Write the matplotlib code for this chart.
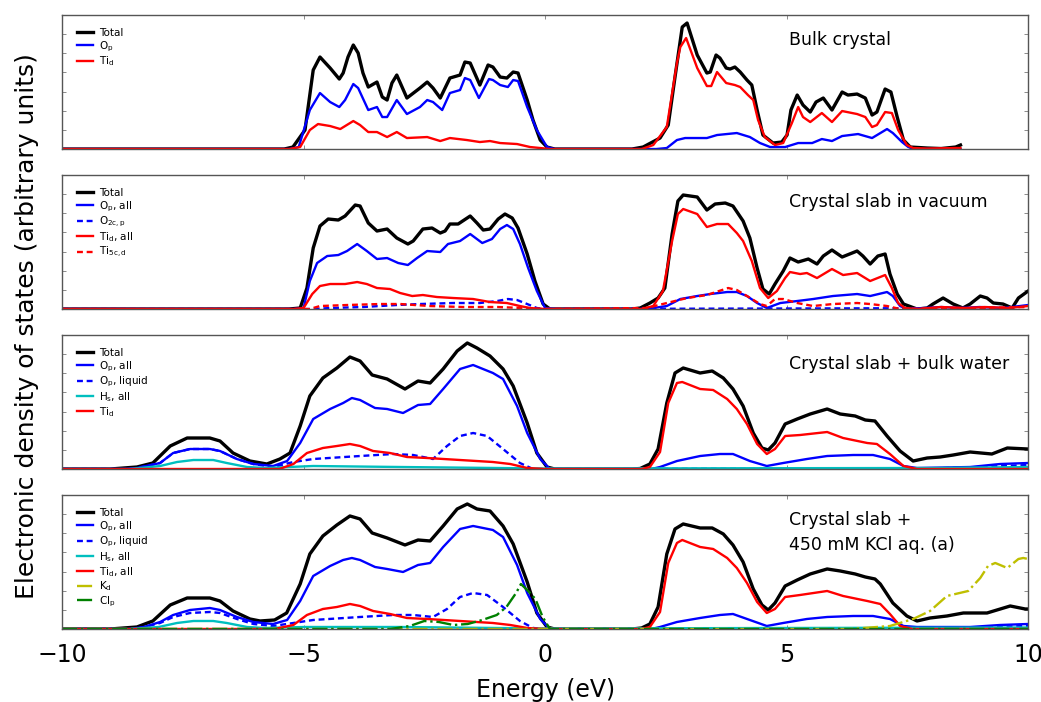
import matplotlib
matplotlib.use("Agg")
import matplotlib.pyplot as plt
import numpy as np

# energy grid limits
e_min, e_max = -10, 10

# ---- panel 1: bulk crystal (energy eV, DOS arb.) ----
bulk_total = [(-10, 0), (-5.4, 0), (-5.22, 2), (-4.97, 19), (-4.80, 79), (-4.66, 92), (-4.45, 81), (-4.26, 70),
              (-4.18, 76), (-4.08, 92), (-3.97, 104), (-3.87, 96), (-3.77, 76), (-3.66, 62), (-3.48, 67),
              (-3.37, 52), (-3.27, 49), (-3.17, 66), (-3.07, 74), (-2.86, 51), (-2.59, 61), (-2.44, 67),
              (-2.32, 61), (-2.17, 51), (-1.97, 71), (-1.76, 74), (-1.66, 87), (-1.55, 86), (-1.35, 64),
              (-1.18, 84), (-1.08, 82), (-0.93, 72), (-0.79, 71), (-0.66, 77), (-0.56, 76), (-0.37, 49),
              (-0.25, 29), (-0.10, 9), (0.04, 2), (0.2, 0), (1.8, 0), (2.03, 2), (2.38, 11), (2.55, 24),
              (2.69, 72), (2.84, 122), (2.94, 126), (3.15, 94), (3.35, 76), (3.42, 77), (3.54, 94), (3.62, 91),
              (3.75, 81), (3.83, 80), (3.93, 82), (4.04, 77), (4.18, 69), (4.28, 64), (4.39, 39), (4.51, 14),
              (4.72, 6), (4.90, 7), (5.01, 14), (5.09, 39), (5.22, 54), (5.34, 44), (5.49, 37), (5.61, 47),
              (5.76, 51), (5.94, 39), (6.15, 57), (6.27, 54), (6.46, 55), (6.63, 51), (6.77, 34), (6.87, 37),
              (7.04, 60), (7.16, 57), (7.29, 32), (7.42, 9), (7.56, 2), (7.91, 1), (8.2, 0.5), (8.5, 2), (8.6, 4)]
bulk_op = [(-10, 0), (-5.3, 0), (-5.1, 2), (-4.87, 39), (-4.66, 56), (-4.45, 47), (-4.26, 42), (-4.14, 49),
           (-3.97, 65), (-3.87, 61), (-3.66, 39), (-3.48, 42), (-3.37, 32), (-3.27, 32), (-3.07, 49), (-2.86, 35),
           (-2.59, 42), (-2.44, 49), (-2.32, 47), (-2.13, 39), (-1.97, 56), (-1.76, 59), (-1.66, 71), (-1.55, 69),
           (-1.37, 51), (-1.16, 70), (-1.08, 69), (-0.93, 64), (-0.77, 62), (-0.66, 69), (-0.56, 68), (-0.37, 42),
           (-0.17, 19), (0.04, 2), (0.2, 0), (2.3, 0), (2.52, 1), (2.73, 9), (2.90, 11), (3.35, 11), (3.56, 14),
           (3.97, 16), (4.24, 12), (4.45, 6), (4.66, 2), (4.97, 2), (5.24, 6), (5.53, 6), (5.73, 10), (5.94, 8),
           (6.15, 13), (6.48, 15), (6.77, 11), (7.08, 20), (7.2, 16), (7.39, 7), (7.52, 2), (7.7, 0), (8.6, 0)]
bulk_tid = [(-10, 0), (-5.3, 0), (-5.07, 2), (-4.87, 19), (-4.70, 25), (-4.45, 23), (-4.24, 20), (-3.97, 28),
            (-3.83, 24), (-3.66, 17), (-3.48, 17), (-3.27, 12), (-3.07, 17), (-2.86, 11), (-2.44, 12), (-2.17, 8),
            (-1.97, 11), (-1.62, 9), (-1.35, 7), (-1.14, 8), (-0.93, 6), (-0.58, 5), (-0.31, 2), (-0.1, 1),
            (0.1, 0), (2.0, 0), (2.24, 4), (2.52, 22), (2.73, 86), (2.80, 102), (2.92, 111), (3.15, 81),
            (3.35, 63), (3.44, 63), (3.56, 77), (3.75, 66), (3.93, 64), (4.04, 62), (4.20, 54), (4.31, 49),
            (4.41, 29), (4.55, 12), (4.76, 4), (4.93, 6), (5.11, 26), (5.24, 42), (5.34, 32), (5.49, 27),
            (5.73, 36), (5.94, 27), (6.15, 38), (6.46, 35), (6.63, 32), (6.77, 22), (6.87, 24), (7.04, 37),
            (7.18, 36), (7.31, 19), (7.49, 4), (7.62, 1), (7.9, 0.5), (8.5, 1), (8.6, 1)]

# ---- panel 2: crystal slab in vacuum ----
vac_total = [(-10, 0), (-5.3, 0), (-5.07, 1), (-4.93, 21), (-4.80, 61), (-4.66, 83), (-4.49, 90), (-4.28, 89),
             (-4.14, 93), (-3.93, 104), (-3.83, 103), (-3.66, 86), (-3.48, 78), (-3.27, 80), (-3.07, 71),
             (-2.84, 65), (-2.73, 68), (-2.53, 80), (-2.34, 81), (-2.17, 76), (-2.07, 78), (-1.97, 85),
             (-1.80, 85), (-1.55, 93), (-1.41, 86), (-1.28, 79), (-1.14, 80), (-0.97, 90), (-0.83, 95),
             (-0.68, 91), (-0.56, 81), (-0.37, 55), (-0.21, 28), (-0.04, 5), (0.10, 0), (1.8, 0), (1.97, 1),
             (2.17, 6), (2.34, 11), (2.48, 21), (2.63, 75), (2.75, 108), (2.86, 114), (3.15, 112), (3.35, 99),
             (3.52, 105), (3.73, 106), (3.89, 103), (4.10, 88), (4.24, 71), (4.39, 41), (4.51, 20), (4.64, 15),
             (4.76, 25), (4.93, 38), (5.07, 51), (5.24, 47), (5.45, 50), (5.63, 45), (5.76, 53), (5.94, 59),
             (6.15, 52), (6.46, 58), (6.58, 53), (6.73, 45), (6.89, 53), (7.04, 55), (7.14, 35), (7.29, 15),
             (7.42, 5), (7.70, 0), (7.91, 1), (8.03, 5), (8.24, 11), (8.45, 5), (8.65, 1), (8.80, 5), (9.01, 13),
             (9.15, 11), (9.28, 6), (9.48, 5), (9.67, 1), (9.80, 11), (10.0, 18)]
vac_op = [(-10, 0), (-5.2, 0), (-5.0, 1), (-4.87, 28), (-4.72, 46), (-4.51, 53), (-4.28, 54), (-4.10, 58),
          (-3.89, 65), (-3.69, 58), (-3.48, 50), (-3.27, 51), (-3.04, 46), (-2.84, 44), (-2.65, 51), (-2.44, 58),
          (-2.17, 57), (-2.01, 65), (-1.76, 68), (-1.55, 75), (-1.30, 66), (-1.10, 70), (-0.93, 80), (-0.79, 84),
          (-0.66, 80), (-0.52, 65), (-0.35, 41), (-0.17, 18), (0.0, 1), (0.2, 0), (2.1, 0), (2.52, 3), (2.80, 10),
          (3.15, 13), (3.42, 15), (3.77, 17), (3.97, 17), (4.18, 13), (4.39, 6), (4.59, 1), (4.87, 6), (5.22, 8),
          (5.55, 10), (5.96, 13), (6.46, 15), (6.73, 13), (7.08, 17), (7.2, 13), (7.35, 3), (7.5, 0),
          (8.2, 2), (8.6, 1), (9.0, 2), (9.5, 1), (10.0, 4)]
vac_o2c = [(-10, 0), (-4.8, 0), (-4.45, 1), (-3.77, 2), (-3.07, 4), (-2.59, 5), (-1.9, 6), (-1.35, 6),
           (-0.99, 8), (-0.77, 10), (-0.58, 9), (-0.37, 5), (-0.17, 1), (0.0, 0), (9.5, 1), (10.0, 3)]
vac_tid = [(-10, 0), (-5.2, 0), (-5.0, 1), (-4.82, 15), (-4.66, 23), (-4.45, 25), (-4.14, 25), (-3.89, 27),
           (-3.69, 25), (-3.48, 21), (-3.21, 20), (-3.0, 16), (-2.75, 13), (-2.53, 14), (-2.24, 12), (-1.90, 11),
           (-1.49, 10), (-1.14, 7), (-0.79, 6), (-0.52, 3), (-0.31, 1), (0.0, 0), (2.0, 0), (2.24, 3),
           (2.44, 18), (2.63, 68), (2.75, 95), (2.86, 100), (3.15, 95), (3.35, 82), (3.56, 85), (3.79, 85),
           (3.97, 76), (4.10, 68), (4.28, 48), (4.45, 21), (4.62, 11), (4.80, 18), (4.97, 31), (5.07, 37),
           (5.28, 35), (5.42, 36), (5.63, 31), (5.94, 40), (6.17, 34), (6.46, 36), (6.73, 28), (7.04, 34),
           (7.18, 21), (7.31, 6), (7.45, 1), (7.7, 0), (8.2, 2), (8.7, 1), (9.1, 2), (9.6, 1), (10.0, 3)]
vac_ti5c = [(-10, 0), (-4.87, 0), (-4.66, 3), (-4.10, 4), (-3.42, 5), (-3.0, 5), (-2.38, 3), (-1.70, 2),
            (-0.99, 2), (-0.45, 1), (-0.2, 0), (2.1, 1), (2.52, 6), (2.94, 11), (3.35, 14), (3.79, 21),
            (3.97, 19), (4.18, 13), (4.45, 5), (4.59, 3), (4.76, 10), (4.93, 10), (5.22, 6), (5.55, 3),
            (5.96, 5), (6.46, 6), (6.73, 5), (7.08, 3), (7.35, 0), (9.0, 1), (10.0, 2)]

# ---- panel 3: crystal slab + bulk water ----
wat_total = [(-10, 0), (-9.0, 0), (-8.45, 2), (-8.12, 6), (-7.76, 23), (-7.41, 31), (-6.94, 31), (-6.73, 28),
             (-6.46, 16), (-6.11, 8), (-5.76, 5), (-5.49, 10), (-5.28, 16), (-5.07, 43), (-4.87, 73), (-4.60, 91),
             (-4.31, 101), (-4.04, 112), (-3.83, 108), (-3.58, 94), (-3.27, 90), (-2.90, 80), (-2.63, 88),
             (-2.38, 86), (-2.11, 100), (-1.82, 118), (-1.61, 126), (-1.41, 121), (-1.14, 113), (-0.87, 100),
             (-0.66, 83), (-0.37, 46), (-0.17, 16), (0.04, 2), (0.2, 0), (1.8, 0), (1.97, 0.5), (2.17, 5),
             (2.34, 20), (2.52, 66), (2.69, 96), (2.86, 101), (3.21, 96), (3.46, 98), (3.69, 91), (3.89, 80),
             (4.10, 63), (4.31, 36), (4.49, 21), (4.62, 19), (4.76, 26), (4.97, 45), (5.22, 50), (5.49, 55),
             (5.84, 60), (6.11, 55), (6.42, 53), (6.63, 49), (6.83, 48), (7.08, 33), (7.35, 18), (7.62, 8),
             (7.91, 11), (8.18, 12), (8.45, 14), (8.80, 17), (9.25, 15), (9.57, 21), (10.0, 20)]
wat_op = [(-10, 0), (-8.7, 0), (-8.45, 1), (-7.97, 6), (-7.70, 16), (-7.35, 20), (-6.94, 20), (-6.73, 18),
          (-6.38, 10), (-6.04, 5), (-5.63, 3), (-5.34, 8), (-5.07, 26), (-4.80, 50), (-4.45, 60), (-4.18, 66),
          (-4.00, 71), (-3.83, 69), (-3.52, 61), (-3.27, 60), (-2.94, 56), (-2.63, 64), (-2.38, 65), (-2.11, 80),
          (-1.76, 100), (-1.49, 104), (-1.08, 96), (-0.87, 90), (-0.58, 63), (-0.37, 36), (-0.10, 10), (0.10, 0),
          (2.2, 0), (2.38, 2), (2.73, 8), (3.21, 13), (3.62, 15), (3.89, 15), (4.24, 8), (4.59, 3), (4.93, 6),
          (5.42, 10), (5.84, 13), (6.38, 14), (6.79, 14), (7.14, 10), (7.42, 3), (7.7, 1), (8.8, 2), (9.42, 5),
          (10.0, 6)]
wat_liq = [(-10, 0), (-8.7, 0), (-8.45, 1), (-7.97, 6), (-7.70, 16), (-7.35, 20), (-6.94, 20), (-6.73, 18),
           (-6.38, 10), (-6.04, 5), (-5.63, 2), (-5.21, 7), (-4.80, 10), (-3.83, 13), (-3.14, 15), (-2.73, 14),
           (-2.32, 10), (-2.03, 23), (-1.76, 33), (-1.49, 36), (-1.20, 33), (-0.87, 20), (-0.52, 6), (-0.25, 0),
           (8.0, 0.5), (9.0, 2), (10.0, 4)]
wat_hs = [(-10, 0), (-8.6, 0), (-7.97, 3), (-7.62, 7), (-7.28, 9), (-6.87, 9), (-6.59, 6), (-6.17, 2),
          (-5.8, 1), (-4.80, 3), (-3.0, 2), (-1.0, 1), (0.0, 0.5), (8.0, 1), (10.0, 2)]
wat_tid = [(-10, 0), (-5.5, 0), (-5.21, 5), (-4.93, 16), (-4.60, 21), (-4.31, 23), (-4.04, 25), (-3.83, 23),
           (-3.56, 18), (-3.21, 16), (-2.86, 12), (-2.44, 11), (-1.76, 9), (-1.08, 7), (-0.72, 5), (-0.37, 1),
           (0.0, 0), (2.0, 0), (2.17, 2), (2.38, 17), (2.55, 66), (2.73, 86), (2.84, 87), (3.21, 80), (3.48, 79),
           (3.77, 70), (3.97, 60), (4.18, 45), (4.39, 25), (4.59, 15), (4.76, 20), (4.97, 33), (5.28, 34),
           (5.84, 37), (6.17, 31), (6.67, 26), (6.87, 25), (7.14, 15), (7.42, 3), (7.7, 0), (10.0, 0)]

# ---- panel 4: crystal slab + 450 mM KCl aq. ----
kcl_total = [(-10, 0), (-9.0, 0), (-8.45, 2), (-8.12, 8), (-7.76, 24), (-7.41, 31), (-6.94, 31), (-6.73, 28),
             (-6.46, 18), (-6.11, 10), (-5.9, 8), (-5.6, 9), (-5.35, 16), (-5.07, 45), (-4.87, 75), (-4.60, 93),
             (-4.31, 104), (-4.04, 113), (-3.83, 110), (-3.58, 96), (-3.27, 91), (-2.90, 84), (-2.63, 89),
             (-2.38, 88), (-2.11, 103), (-1.82, 120), (-1.61, 125), (-1.41, 120), (-1.14, 118), (-0.87, 103),
             (-0.66, 85), (-0.37, 47), (-0.17, 16), (0.04, 2), (0.2, 0), (1.8, 0), (2.0, 1), (2.17, 5), (2.34, 22),
             (2.52, 75), (2.69, 100), (2.86, 105), (3.21, 101), (3.46, 101), (3.69, 95), (3.89, 84), (4.10, 67),
             (4.31, 40), (4.49, 24), (4.62, 19), (4.76, 26), (4.97, 43), (5.22, 49), (5.49, 55), (5.84, 60),
             (6.11, 58), (6.42, 55), (6.63, 52), (6.83, 50), (6.94, 45), (7.2, 26), (7.49, 13), (7.70, 8),
             (7.97, 11), (8.32, 13), (8.66, 16), (9.15, 16), (9.63, 23), (9.94, 20), (10.0, 20)]
kcl_op = [(-10, 0), (-8.6, 0), (-8.3, 2), (-7.97, 7), (-7.70, 14), (-7.35, 19), (-6.94, 21), (-6.73, 19),
          (-6.38, 12), (-6.04, 7), (-5.63, 5), (-5.34, 9), (-5.07, 28), (-4.80, 53), (-4.45, 63), (-4.18, 69),
          (-4.0, 71), (-3.83, 69), (-3.52, 62), (-3.27, 60), (-2.94, 57), (-2.63, 64), (-2.38, 66), (-2.11, 82),
          (-1.76, 100), (-1.49, 103), (-1.08, 99), (-0.87, 92), (-0.58, 64), (-0.37, 36), (-0.10, 10), (0.10, 0),
          (2.2, 0), (2.38, 2), (2.73, 7), (3.21, 11), (3.62, 14), (3.89, 15), (4.24, 9), (4.59, 3), (4.93, 6),
          (5.42, 10), (5.84, 12), (6.38, 13), (6.79, 13), (7.14, 10), (7.42, 3), (7.7, 2), (8.8, 2), (9.42, 4),
          (10.0, 5)]
kcl_liq = [(-10, 0), (-8.6, 0), (-8.3, 2), (-7.97, 6), (-7.70, 12), (-7.35, 16), (-6.94, 17), (-6.73, 16),
           (-6.38, 10), (-6.04, 5), (-5.63, 3), (-5.21, 6), (-4.80, 9), (-3.83, 12), (-3.14, 14), (-2.73, 14),
           (-2.32, 12), (-2.03, 20), (-1.76, 32), (-1.49, 36), (-1.20, 34), (-0.87, 22), (-0.52, 8), (-0.25, 1),
           (0.0, 0), (8.0, 0.5), (10.0, 3)]
kcl_hs = [(-10, 0), (-8.6, 0), (-8.0, 2), (-7.62, 6), (-7.28, 8), (-6.87, 8), (-6.59, 6), (-6.17, 2),
          (-5.8, 1), (-5.0, 2), (-3.0, 2), (-1.0, 1), (0.0, 0.5), (10.0, 1.5)]
kcl_tid = [(-10, 0), (-5.6, 0), (-5.21, 4), (-4.93, 14), (-4.60, 20), (-4.31, 22), (-4.04, 25), (-3.83, 23),
           (-3.56, 18), (-3.21, 15), (-2.86, 11), (-2.44, 10), (-1.76, 8), (-1.08, 6), (-0.72, 4), (-0.37, 1),
           (0.0, 0), (2.0, 0), (2.17, 2), (2.38, 17), (2.55, 66), (2.73, 86), (2.84, 89), (3.21, 82), (3.48, 80),
           (3.77, 71), (3.97, 61), (4.18, 46), (4.39, 27), (4.59, 16), (4.76, 20), (4.97, 32), (5.28, 34),
           (5.84, 38), (6.17, 33), (6.67, 28), (6.94, 25), (7.14, 15), (7.35, 3), (7.6, 0), (10.0, 0)]
kcl_kd = [(-10, 0), (6.3, 0), (6.6, 1), (7.14, 3), (7.62, 10), (7.97, 18), (8.32, 33), (8.76, 38), (9.01, 51),
          (9.17, 63), (9.32, 66), (9.57, 61), (9.80, 70), (9.90, 71), (10.0, 70)]
kcl_clp = [(-10, 0), (-3.2, 0), (-2.8, 3), (-2.5, 8), (-2.2, 7), (-1.9, 4), (-1.6, 5), (-1.3, 9), (-1.0, 14),
           (-0.8, 22), (-0.6, 36), (-0.5, 45), (-0.35, 38), (-0.2, 30), (-0.05, 12), (0.1, 0), (10.0, 0)]

panel_titles = ['Bulk crystal', 'Crystal slab in vacuum', 'Crystal slab + bulk water',
                'Crystal slab +\n450 mM KCl aq. (a)']

dash = (0, (2.5, 1.6))
panels = [
    [(bulk_total, 'Total', 'k', '-'), (bulk_op, r'O$_{\rm p}$', 'b', '-'), (bulk_tid, r'Ti$_{\rm d}$', 'r', '-')],
    [(vac_total, 'Total', 'k', '-'), (vac_op, r'O$_{\rm p}$, all', 'b', '-'),
     (vac_o2c, r'O$_{\rm 2c,p}$', 'b', dash), (vac_tid, r'Ti$_{\rm d}$, all', 'r', '-'),
     (vac_ti5c, r'Ti$_{\rm 5c,d}$', 'r', dash)],
    [(wat_total, 'Total', 'k', '-'), (wat_op, r'O$_{\rm p}$, all', 'b', '-'),
     (wat_liq, r'O$_{\rm p}$, liquid', 'b', dash), (wat_hs, r'H$_{\rm s}$, all', 'c', '-'),
     (wat_tid, r'Ti$_{\rm d}$', 'r', '-')],
    [(kcl_total, 'Total', 'k', '-'), (kcl_op, r'O$_{\rm p}$, all', 'b', '-'),
     (kcl_liq, r'O$_{\rm p}$, liquid', 'b', dash), (kcl_hs, r'H$_{\rm s}$, all', 'c', '-'),
     (kcl_tid, r'Ti$_{\rm d}$, all', 'r', '-'), (kcl_kd, r'K$_{\rm d}$', 'y', '-.'),
     (kcl_clp, r'Cl$_{\rm p}$', 'g', '-.')],
]
title_pos = [(0.752, 0.81), (0.752, 0.80), (0.752, 0.78), (0.752, 0.72)]

fig = plt.figure(figsize=(10.41, 7.02), dpi=100)
left, width, height = 0.0596, 0.928, 0.1909
bottoms = [0.7877, 0.5598, 0.3319, 0.1040]

for i, series in enumerate(panels):
    ax = fig.add_axes([left, bottoms[i], width, height])
    for data, lab, col, ls in series:
        d = np.array(data).T
        lw = 2.4 if lab == 'Total' else 1.7
        ax.plot(d[0], d[1], color=col, ls=ls, lw=lw, label=lab)
    ax.set_xlim(e_min, e_max)
    ax.set_ylim(0, 134)
    ax.set_xticks([-10, -5, 0, 5, 10])
    ax.set_yticks(np.linspace(0, 134, 8))
    ax.set_yticklabels([])
    ax.tick_params(direction='in', length=3, width=0.6, color='#777777', top=True, right=True)
    for s in ax.spines.values():
        s.set_color('#555555')
        s.set_linewidth(1.0)
    if i < 3:
        ax.set_xticklabels([])
    else:
        ax.tick_params(axis='x', labelsize=17, pad=10)
        ax.set_xlabel('Energy (eV)', fontsize=17, labelpad=8)
    tx, ty = title_pos[i]
    ax.text(tx, ty, panel_titles[i], transform=ax.transAxes, fontsize=12.5, ha='left', va='center',
            linespacing=1.45)
    ax.legend(loc='upper left', frameon=False, fontsize=7.5, handlelength=1.5, handletextpad=0.6,
              labelspacing=0.1, borderaxespad=0.6, bbox_to_anchor=(0.005, 0.98))

fig.text(0.026, 0.535, 'Electronic density of states (arbitrary units)', rotation=90, fontsize=18,
         ha='center', va='center')

fig.savefig('out.png', dpi=100)
